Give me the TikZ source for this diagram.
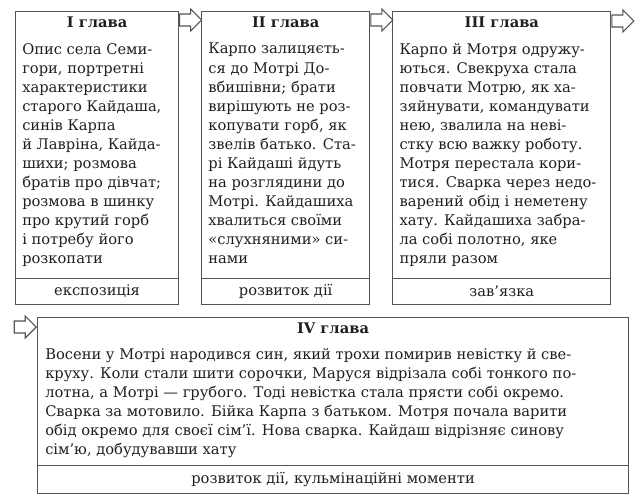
\documentclass[tikz,border=0pt]{standalone}
\usepackage{fontspec}
\setmainfont{DejaVu Serif}
\usepackage{xcolor}
\usetikzlibrary{positioning,calc,shapes.arrows}

\definecolor{framegray}{gray}{0.33}
\definecolor{inkgray}{gray}{0.12}

\begin{document}
\begin{tikzpicture}[
  x=0.75pt, y=-0.75pt,
  font=\fontsize{11}{14.3}\selectfont,
  text=inkgray,
  chbox/.style={draw=framegray, line width=0.85pt, inner sep=0pt, anchor=north west},
  chfoot/.style={draw=framegray, line width=0.85pt, inner sep=0pt, anchor=south},
  chtitle/.style={font=\bfseries\fontsize{11}{14.3}\selectfont, inner sep=0pt, anchor=north},
  chtext/.style={align=left, inner sep=0pt, anchor=north west},
  nextarrow/.style={single arrow, draw=framegray, line width=0.8pt, fill=white,
    inner sep=4.1pt, single arrow head extend=3.75pt, minimum height=16.5pt, anchor=tail}
]

\useasboundingbox (0,0) rectangle (643,500);

% ----- ramki rozdiliv -----
\node[chbox, minimum width=122.25pt, minimum height=219.75pt] (ch1) at (15,11) {};
\node[chbox, minimum width=126pt, minimum height=219.75pt, right=16.5pt of ch1] (ch2) {};
\node[chbox, minimum width=163.5pt, minimum height=219.75pt, right=16.5pt of ch2] (ch3) {};
\node[chbox, minimum width=443.25pt, minimum height=132pt] (ch4) at (37,317) {};

% ----- nyzhni klityny -----
\node[chfoot, minimum width=122.25pt, minimum height=19.5pt] (ft1) at (ch1.south) {експозиція};
\node[chfoot, minimum width=126pt, minimum height=19.5pt] (ft2) at (ch2.south) {розвиток дії};
\node[chfoot, minimum width=163.5pt, minimum height=19.5pt] (ft3) at (ch3.south) {зав’язка};
\node[chfoot, minimum width=443.25pt, minimum height=21pt] (ft4) at (ch4.south) {розвиток дії, кульмінаційні моменти};

% ----- zagolovky -----
\node[chtitle] (tt1) at ($(ch1.north)+(0,6)$) {I глава};
\node[chtitle] (tt2) at ($(ch2.north)+(0,6)$) {II глава};
\node[chtitle] (tt3) at ($(ch3.north)+(0,6)$) {III глава};
\node[chtitle] (tt4) at ($(ch4.north)+(0,6)$) {IV глава};

% ----- teksty -----
\node[chtext] (tx1) at ($(ch1.north west)+(7,32)$) {Опис села Семи-\\гори, портретні\\характеристики\\старого Кайдаша,\\синів Карпа\\й Лавріна, Кайда-\\шихи; розмова\\братів про дівчат;\\розмова в шинку\\про крутий горб\\і потребу його\\розкопати};
\node[chtext] (tx2) at ($(ch2.north west)+(7,32)$) {Карпо залицяєть-\\ся до Мотрі До-\\вбишівни; брати\\вирішують не роз-\\копувати горб, як\\звелів батько. Ста-\\рі Кайдаші йдуть\\на розглядини до\\Мотрі. Кайдашиха\\хвалиться своїми\\«слухняними» си-\\нами};
\node[chtext] (tx3) at ($(ch3.north west)+(7,32)$) {Карпо й Мотря одружу-\\ються. Свекруха стала\\повчати Мотрю, як ха-\\зяйнувати, командувати\\нею, звалила на неві-\\стку всю важку роботу.\\Мотря перестала кори-\\тися. Сварка через недо-\\варений обід і неметену\\хату. Кайдашиха забра-\\ла собі полотно, яке\\пряли разом};
\node[chtext] (tx4) at ($(ch4.north west)+(8,31)$) {Восени у Мотрі народився син, який трохи помирив невістку й све-\\круху. Коли стали шити сорочки, Маруся відрізала собі тонкого по-\\лотна, а Мотрі — грубого. Тоді невістка стала прясти собі окремо.\\Сварка за мотовило. Бійка Карпа з батьком. Мотря почала варити\\обід окремо для своєї сім’ї. Нова сварка. Кайдаш відрізняє синову\\сім’ю, добудувавши хату};

% ----- strilky mizh rozdilamy -----
\node[nextarrow] (ar12) at ($(ch1.north east)+(0,9)$) {};
\node[nextarrow] (ar23) at ($(ch2.north east)+(0,9)$) {};
\node[nextarrow] (ar34) at ($(ch3.north east)+(0,10)$) {};
\node[nextarrow, anchor=tip] (ar4) at ($(ch4.north west)+(0,10)$) {};

\end{tikzpicture}
\end{document}
